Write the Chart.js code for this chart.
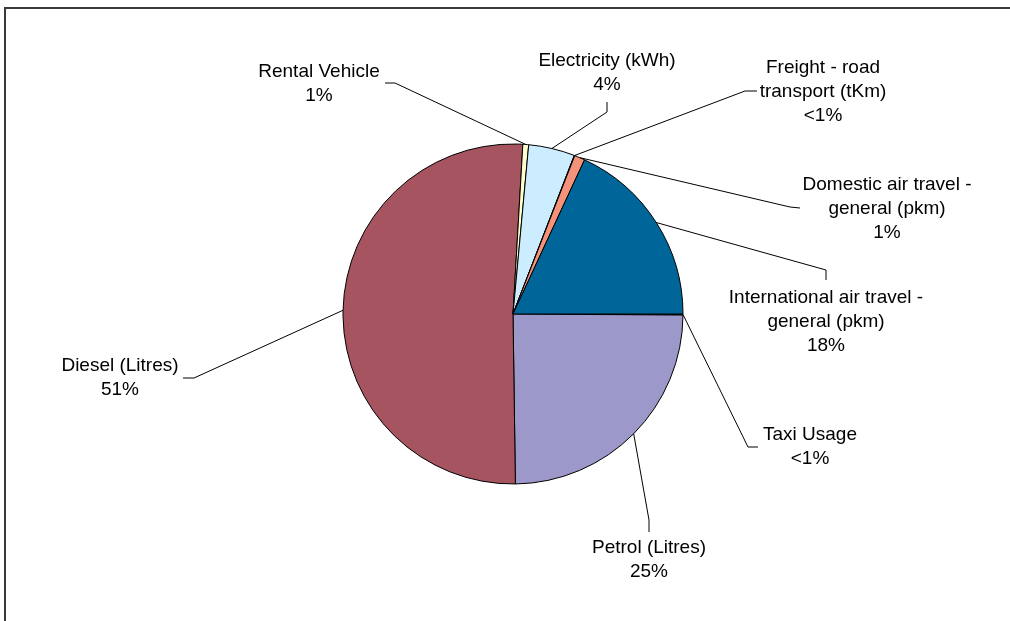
<!DOCTYPE html>
<html>
<head>
<meta charset="utf-8">
<script src="https://cdn.jsdelivr.net/npm/chart.js@4.4.1/dist/chart.umd.min.js"></script>
<style>
    body { margin: 0; background: #fff; overflow: hidden; }
    #wrap { width: 1010px; height: 621px; position: relative; }
</style>
</head>
<body>
<div id="wrap"><canvas id="pieChart"></canvas></div>
<script>
// categories, in drawing order clockwise from 3 o'clock
const categories = [
    ['Taxi Usage'],
    ['Petrol (Litres)'],
    ['Diesel (Litres)'],
    ['Rental Vehicle'],
    ['Electricity (kWh)'],
    ['Freight - road', 'transport (tKm)'],
    ['Domestic air travel -', 'general (pkm)'],
    ['International air travel -', 'general (pkm)']
];
// share of emissions, percent
const shares = [0.1, 24.7, 51.2, 0.55, 4.4, 0.05, 1.0, 18.1];
const pctLabels = ['<1%', '25%', '51%', '1%', '4%', '<1%', '1%', '18%'];
const sliceColors = ['#008080', '#9D98CA', '#A6545F', '#FFFFCC', '#CCECFF', '#800080', '#F4937A', '#006699'];

// where each data label sits: centre x, first line y,
// and the short stub of the leader line (outer end first)
const labelLayout = [
    { x: 810, y: 435, stub: [[758, 447], [748, 447]] },
    { x: 649, y: 548, stub: [[649, 532], [649, 520]] },
    { x: 120, y: 366, stub: [[183, 378], [194, 378]] },
    { x: 319, y: 72, stub: [[385, 83], [395, 83]] },
    { x: 607, y: 61, stub: [[607, 102], [607, 112]] },
    { x: 823, y: 68, stub: [[757, 91], [745, 91]] },
    { x: 887, y: 185, stub: [[800, 208], [790, 207]] },
    { x: 826, y: 298, stub: [[826, 280], [826, 270]] }
];

const lineH = 23.7;
const font = '19px "Liberation Sans", Arial, sans-serif';

const framePlugin = {
    id: 'frame',
    beforeDraw(chart) {
        const ctx = chart.ctx;
        ctx.save();
        ctx.strokeStyle = '#3a3a3a';
        ctx.lineWidth = 2;
        ctx.beginPath();
        ctx.moveTo(5, 621);
        ctx.lineTo(5, 8);
        ctx.lineTo(1010, 8);
        ctx.stroke();
        ctx.restore();
    }
};

const labelPlugin = {
    id: 'pieLabels',
    afterDatasetsDraw(chart) {
        const ctx = chart.ctx;
        const meta = chart.getDatasetMeta(0);
        ctx.save();
        ctx.strokeStyle = '#000';
        ctx.lineWidth = 1;
        meta.data.forEach((arc, i) => {
            const p = arc.getProps(['x', 'y', 'startAngle', 'endAngle', 'outerRadius'], true);
            const mid = (p.startAngle + p.endAngle) / 2;
            const ax = p.x + p.outerRadius * Math.cos(mid);
            const ay = p.y + p.outerRadius * Math.sin(mid);
            const lay = labelLayout[i];
            ctx.beginPath();
            ctx.moveTo(lay.stub[0][0], lay.stub[0][1]);
            ctx.lineTo(lay.stub[1][0], lay.stub[1][1]);
            ctx.lineTo(ax, ay);
            ctx.stroke();

            ctx.fillStyle = '#000';
            ctx.font = font;
            ctx.textAlign = 'center';
            ctx.textBaseline = 'middle';
            const lines = categories[i].concat([pctLabels[i]]);
            lines.forEach((t, k) => {
                ctx.fillText(t, lay.x, lay.y + k * lineH);
            });
        });
        ctx.restore();
    }
};

const ctx = document.getElementById('pieChart').getContext('2d');
const pieChart = new Chart(ctx, {
    type: 'pie',
    data: {
        labels: categories,
        datasets: [{
            data: shares,
            backgroundColor: sliceColors,
            borderColor: '#000',
            borderWidth: 1
        }]
    },
    options: {
        responsive: true,
        maintainAspectRatio: false,
        animation: false,
        rotation: 90,
        radius: 170,
        layout: {
            padding: { left: 343, right: 327, top: 144, bottom: 137 }
        },
        plugins: {
            legend: { display: false },
            tooltip: { enabled: false }
        }
    },
    plugins: [framePlugin, labelPlugin]
});
</script>
</body>
</html>
